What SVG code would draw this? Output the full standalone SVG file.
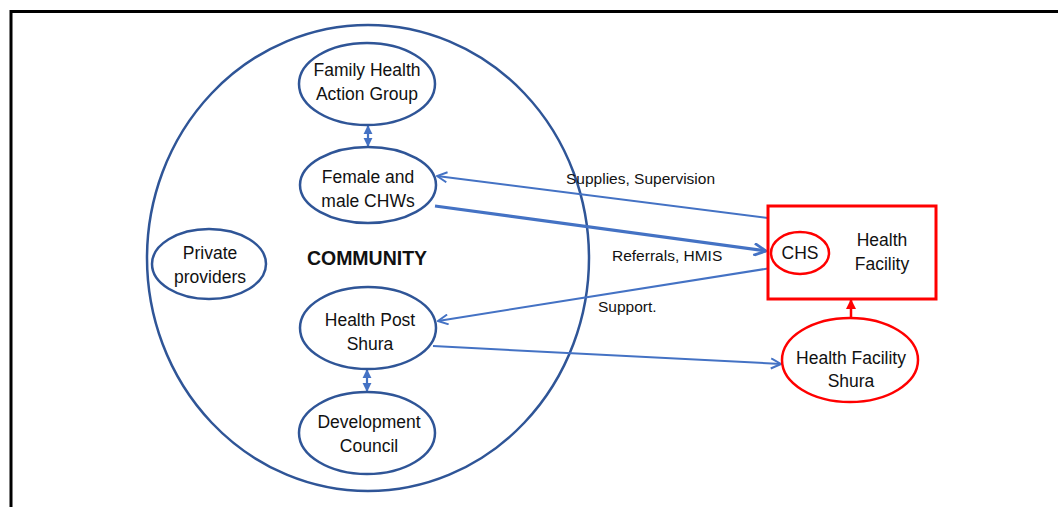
<svg xmlns="http://www.w3.org/2000/svg" width="1058" height="507" viewBox="0 0 1058 507">
  <style>
    .node { fill: #ffffff; stroke: #2f5597; stroke-width: 2.5; }
    .red { fill: #ffffff; stroke: #ff0000; stroke-width: 3; }
    .red-oval { fill: #ffffff; stroke: #ff0000; stroke-width: 2.5; }
    .lbl { font-family: "Liberation Sans", Arial, sans-serif; font-size: 17.5px; fill: #111111; text-anchor: middle; }
    .edge-lbl { font-family: "Liberation Sans", Arial, sans-serif; font-size: 15.5px; fill: #111111; }
    .link { fill: none; stroke: #4472c4; stroke-width: 2; }
    .link-thick { fill: none; stroke: #4472c4; stroke-width: 3.2; }
  </style>
  <defs>
    <marker id="open" viewBox="0 0 12 12" refX="11" refY="6" markerWidth="12" markerHeight="12" markerUnits="userSpaceOnUse" orient="auto">
      <path d="M1,1 L11,6 L1,11" fill="none" stroke="#4472c4" stroke-width="2"/>
    </marker>
    <marker id="openBig" viewBox="0 0 14 14" refX="13" refY="7" markerWidth="14" markerHeight="14" markerUnits="userSpaceOnUse" orient="auto">
      <path d="M1,1 L13,7 L1,13" fill="none" stroke="#4472c4" stroke-width="2.8"/>
    </marker>
    <marker id="tri" viewBox="0 0 10 10" refX="9" refY="5" markerWidth="9" markerHeight="10" markerUnits="userSpaceOnUse" orient="auto-start-reverse">
      <path d="M0,0 L10,5 L0,10 Z" fill="#4472c4"/>
    </marker>
    <marker id="triRed" viewBox="0 0 10 10" refX="9" refY="5" markerWidth="10" markerHeight="10" markerUnits="userSpaceOnUse" orient="auto">
      <path d="M0,0 L10,5 L0,10 Z" fill="#ff0000"/>
    </marker>
  </defs>

  <rect width="1058" height="507" fill="#ffffff"/>

  <!-- page frame -->
  <path d="M11,507 V11.5 H1058" fill="none" stroke="#000000" stroke-width="3"/>

  <!-- community boundary -->
  <g id="community">
    <ellipse cx="368" cy="258" rx="221" ry="233" fill="none" stroke="#2f5597" stroke-width="2.5"/>
    <text x="367" y="265" font-family="Liberation Sans, Arial, sans-serif" font-size="19.5" font-weight="bold" text-anchor="middle" fill="#111111">COMMUNITY</text>
  </g>

  <g id="connectors">
    <!-- vertical links inside the community -->
    <line x1="368" y1="126" x2="368" y2="146" stroke="#4472c4" stroke-width="2.2" marker-start="url(#tri)" marker-end="url(#tri)"/>
    <line x1="367" y1="370" x2="367" y2="391" stroke="#4472c4" stroke-width="2.2" marker-start="url(#tri)" marker-end="url(#tri)"/>
    <!-- facility links -->
    <line class="link" x1="768" y1="218" x2="437" y2="176" marker-end="url(#open)"/>
    <line class="link-thick" x1="435" y1="206" x2="766" y2="251" marker-end="url(#openBig)"/>
    <line class="link" x1="771" y1="268" x2="438" y2="321" marker-end="url(#open)"/>
    <line class="link" x1="433" y1="346" x2="781" y2="364" marker-end="url(#open)"/>
    <line x1="851" y1="318" x2="851" y2="300" stroke="#ff0000" stroke-width="2.5" marker-end="url(#triRed)"/>
    <text class="edge-lbl" x="566" y="184">Supplies, Supervision</text>
    <text class="edge-lbl" x="612" y="261">Referrals, HMIS</text>
    <text class="edge-lbl" x="598" y="312">Support.</text>
  </g>

  <g id="family-health-action-group">
    <ellipse class="node" cx="367" cy="84" rx="68" ry="41"/>
    <text class="lbl" x="367" y="76">Family Health</text>
    <text class="lbl" x="367" y="100">Action Group</text>
  </g>

  <g id="chws">
    <ellipse class="node" cx="368" cy="185" rx="68" ry="38"/>
    <text class="lbl" x="368" y="183">Female and</text>
    <text class="lbl" x="368" y="207">male CHWs</text>
  </g>

  <g id="private-providers">
    <ellipse class="node" cx="209" cy="264" rx="57" ry="35"/>
    <text class="lbl" x="210" y="259">Private</text>
    <text class="lbl" x="210" y="283">providers</text>
  </g>

  <g id="health-post-shura">
    <ellipse class="node" cx="368" cy="328" rx="68" ry="41"/>
    <text class="lbl" x="370" y="326">Health Post</text>
    <text class="lbl" x="370" y="350">Shura</text>
  </g>

  <g id="development-council">
    <ellipse class="node" cx="367" cy="433" rx="68" ry="41"/>
    <text class="lbl" x="369" y="428">Development</text>
    <text class="lbl" x="369" y="452">Council</text>
  </g>

  <g id="health-facility">
    <rect class="red" x="768" y="206" width="168" height="93"/>
    <text class="lbl" x="882" y="246">Health</text>
    <text class="lbl" x="882" y="270">Facility</text>
  </g>

  <g id="chs">
    <ellipse class="red-oval" cx="800" cy="253" rx="29" ry="21"/>
    <text class="lbl" x="800" y="259">CHS</text>
  </g>

  <g id="health-facility-shura">
    <ellipse class="red-oval" cx="850" cy="360" rx="68" ry="42"/>
    <text class="lbl" x="851" y="364">Health Facility</text>
    <text class="lbl" x="851" y="387">Shura</text>
  </g>
</svg>
